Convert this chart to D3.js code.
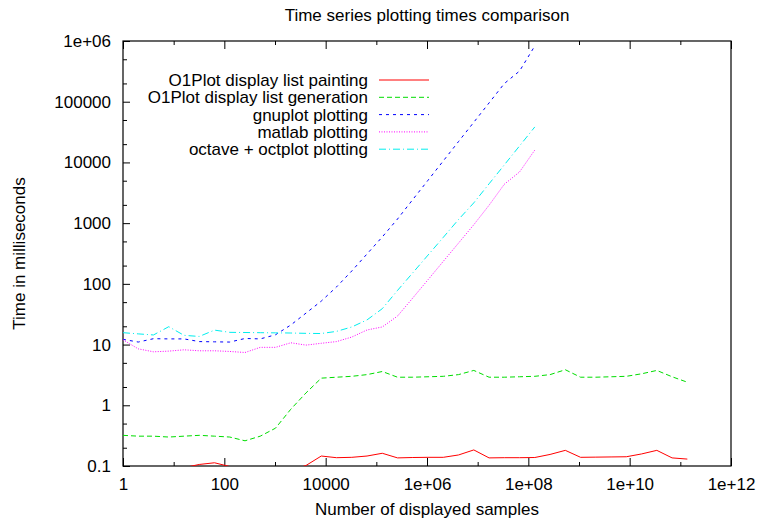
<!DOCTYPE html>
<html lang="en">
<head>
  <meta charset="UTF-8" />
  <title>Time series plotting times comparison</title>
  <script src="https://d3js.org/d3.v7.min.js"></script>
  <style>
    body { margin: 0; background: #fff; }
    text { font-family: "Liberation Sans", Arial, sans-serif; fill: #000; }
  </style>
</head>
<body>
  <svg id="chart" width="759" height="522"></svg>

  <script>
    // number of displayed samples (x values), powers of two
    const samples = [1, 2, 4, 8, 16, 32, 64, 128, 256, 512, 1024, 2048, 4096, 8192,
      16384, 32768, 65536, 131072, 262144, 524288, 1048576, 2097152, 4194304,
      8388608, 16777216, 33554432, 67108864, 134217728, 268435456, 536870912,
      1073741824, 2147483648, 4294967296, 8589934592, 17179869184, 34359738368,
      68719476736, 137438953472];

    // times in milliseconds
    const painting = [0.08, 0.085, 0.09, 0.09, 0.094, 0.106, 0.113, 0.098, 0.09, 0.088,
      0.088, 0.085, 0.102, 0.146, 0.137, 0.139, 0.146, 0.162, 0.136, 0.138, 0.139, 0.139,
      0.152, 0.184, 0.136, 0.137, 0.137, 0.138, 0.155, 0.181, 0.139, 0.140, 0.141, 0.142,
      0.158, 0.181, 0.136, 0.130];
    const generation = [0.32, 0.31, 0.31, 0.30, 0.31, 0.32, 0.31, 0.30, 0.26, 0.31,
      0.42, 0.86, 1.6, 2.8, 2.9, 3.0, 3.2, 3.6, 2.9, 2.9, 2.95, 3.0, 3.2, 3.75, 2.9, 2.9,
      2.95, 3.0, 3.2, 3.85, 2.9, 2.9, 2.95, 3.0, 3.3, 3.75, 2.95, 2.4];
    const gnuplot = [12.2, 11.0, 12.5, 12.4, 12.4, 11.2, 11.1, 11.0, 12.6, 12.4, 14.5,
      21, 33, 52, 89, 163, 311, 593, 1170, 2450, 5090, 10600, 22100, 45900, 95500,
      199000, 320000, 830000];
    const matlab = [12.0, 8.5, 7.6, 7.8, 8.2, 7.9, 7.9, 7.7, 7.4, 9.0, 9.0, 10.7, 9.8,
      10.5, 11.2, 13.3, 17.4, 19.5, 29.5, 58.6, 117, 235, 470, 942, 1970, 4370, 6970, 16000];
    const octave = [15.7, 15.0, 14.4, 19.7, 14.2, 13.6, 17.3, 15.9, 15.8, 15.7, 15.6,
      15.5, 15.3, 15.2, 16.5, 19.5, 25.5, 39, 78, 152, 298, 583, 1150, 2160, 4440, 9100,
      18700, 38400];

    const seriesNames = ["O1Plot display list painting", "O1Plot display list generation",
      "gnuplot plotting", "matlab plotting", "octave + octplot plotting"];
    const seriesColors = ["#ff0000", "#00dd00", "#0000ff", "#ff00ff", "#00eeee"];
    const seriesDash = [null, "5,3", "3,4", "1,1.5", "7,3,1,3"];
    const seriesValues = [painting, generation, gnuplot, matlab, octave];

    const xTicks = [1, 1e2, 1e4, 1e6, 1e8, 1e10, 1e12];
    const xTickLabels = ["1", "100", "10000", "1e+06", "1e+08", "1e+10", "1e+12"];
    const xMinor = [1e1, 1e3, 1e5, 1e7, 1e9, 1e11];
    const yTicks = [0.1, 1, 10, 100, 1000, 1e4, 1e5, 1e6];
    const yTickLabels = ["0.1", "1", "10", "100", "1000", "10000", "100000", "1e+06"];
    const yMinor = [0.2, 0.5, 2, 5, 20, 50, 200, 500, 2000, 5000, 2e4, 5e4, 2e5, 5e5];

    const plotLeft = 123, plotRight = 731, plotTop = 41, plotBottom = 466;
    const fontSize = 17;

    const svg = d3.select("#chart");
    svg.append("rect").attr("width", 759).attr("height", 522).attr("fill", "#fff");

    const x = d3.scaleLog().domain([1, 1e12]).range([plotLeft, plotRight]);
    const y = d3.scaleLog().domain([0.1, 1e6]).range([plotBottom, plotTop]);

    svg.append("defs").append("clipPath").attr("id", "plot-clip")
      .append("rect")
      .attr("x", plotLeft).attr("y", plotTop)
      .attr("width", plotRight - plotLeft).attr("height", plotBottom - plotTop);

    // axes
    const styleAxis = g => {
      g.select(".domain").remove();
      g.selectAll(".tick line").attr("stroke", "#000").attr("stroke-width", 1);
      g.selectAll(".tick text").attr("font-size", fontSize)
        .attr("font-family", "Liberation Sans, Arial, sans-serif").attr("fill", "#000");
    };

    svg.append("g").attr("transform", `translate(0,${plotBottom})`)
      .call(d3.axisBottom(x).tickValues(xTicks).tickSize(-8).tickPadding(12)
        .tickFormat((d, i) => xTickLabels[i]))
      .call(styleAxis);
    svg.append("g").attr("transform", `translate(0,${plotBottom})`)
      .call(d3.axisBottom(x).tickValues(xMinor).tickSize(-4).tickFormat(""))
      .call(styleAxis);
    svg.append("g").attr("transform", `translate(0,${plotTop})`)
      .call(d3.axisTop(x).tickValues(xTicks).tickSize(-8).tickFormat(""))
      .call(styleAxis);
    svg.append("g").attr("transform", `translate(0,${plotTop})`)
      .call(d3.axisTop(x).tickValues(xMinor).tickSize(-4).tickFormat(""))
      .call(styleAxis);

    svg.append("g").attr("transform", `translate(${plotLeft},0)`)
      .call(d3.axisLeft(y).tickValues(yTicks).tickSize(-7).tickPadding(12)
        .tickFormat((d, i) => yTickLabels[i]))
      .call(styleAxis);
    svg.append("g").attr("transform", `translate(${plotLeft},0)`)
      .call(d3.axisLeft(y).tickValues(yMinor).tickSize(-4).tickFormat(""))
      .call(styleAxis);

    // frame
    svg.append("rect")
      .attr("x", plotLeft).attr("y", plotTop)
      .attr("width", plotRight - plotLeft).attr("height", plotBottom - plotTop)
      .attr("fill", "none").attr("stroke", "#000").attr("stroke-width", 1.2);

    // lines
    const line = d3.line()
      .x(d => x(d[0]))
      .y(d => y(d[1]));

    const plot = svg.append("g").attr("clip-path", "url(#plot-clip)");
    seriesValues.forEach((vals, i) => {
      plot.append("path")
        .datum(vals.map((v, j) => [samples[j], v]))
        .attr("d", line)
        .attr("fill", "none")
        .attr("stroke", seriesColors[i])
        .attr("stroke-width", 1)
        .attr("stroke-dasharray", seriesDash[i]);
    });

    // legend
    const legendY = [80, 97.3, 114.6, 131.9, 149.2];
    seriesNames.forEach((name, i) => {
      svg.append("text")
        .attr("x", 368).attr("y", legendY[i])
        .attr("dy", "0.35em")
        .attr("text-anchor", "end")
        .attr("font-size", fontSize)
        .text(name);
      svg.append("line")
        .attr("x1", 379).attr("x2", 429)
        .attr("y1", legendY[i]).attr("y2", legendY[i])
        .attr("stroke", seriesColors[i])
        .attr("stroke-width", 1)
        .attr("stroke-dasharray", seriesDash[i]);
    });

    // titles
    svg.append("text")
      .attr("x", 427).attr("y", 21)
      .attr("text-anchor", "middle").attr("font-size", fontSize)
      .text("Time series plotting times comparison");
    svg.append("text")
      .attr("x", 427).attr("y", 515)
      .attr("text-anchor", "middle").attr("font-size", fontSize)
      .text("Number of displayed samples");
    svg.append("text")
      .attr("transform", `translate(25,${(plotTop + plotBottom) / 2}) rotate(-90)`)
      .attr("text-anchor", "middle").attr("font-size", fontSize)
      .text("Time in milliseconds");
  </script>
</body>
</html>
